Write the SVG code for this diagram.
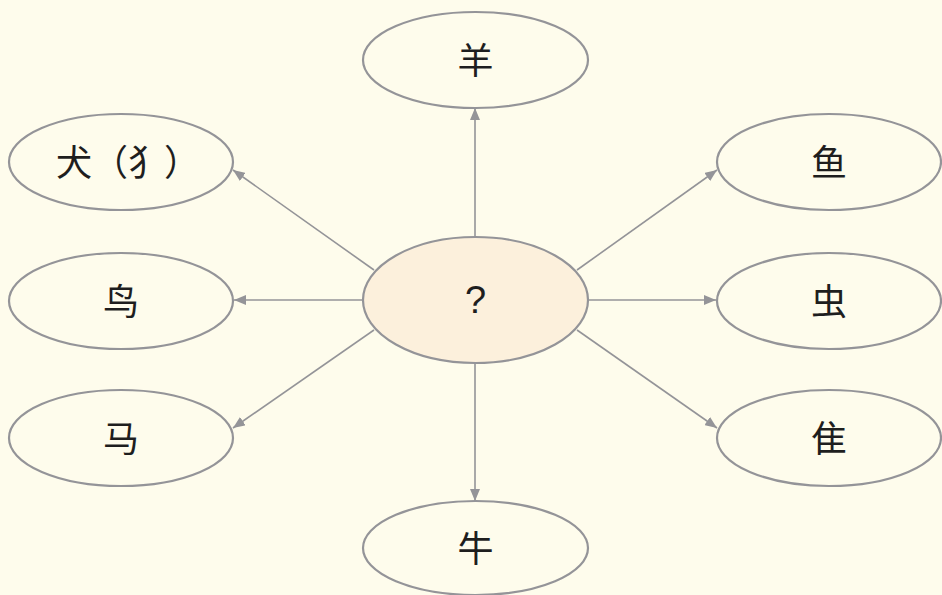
<svg xmlns="http://www.w3.org/2000/svg" width="942" height="595" viewBox="0 0 942 595">
<style>
.n ellipse{fill:none;stroke:#949498;stroke-width:2.2}
.n text{font-family:"Noto Sans CJK SC","Noto Sans CJK TC",sans-serif;font-size:36px;fill:#1e1e1e;text-anchor:middle;dominant-baseline:central}
#edges line{stroke:#949498;stroke-width:1.6}
</style>
<defs>
<marker id="ah" viewBox="0 0 12 10" refX="12" refY="5" markerWidth="12" markerHeight="10" markerUnits="userSpaceOnUse" orient="auto">
<path d="M0,0 L12,5 L0,10 Z" fill="#949498"/>
</marker>
</defs>
<rect width="942" height="595" fill="#fefcec"/>
<g id="edges">
<line x1="475" y1="237" x2="475" y2="108" marker-end="url(#ah)"/>
<line x1="475" y1="363" x2="475" y2="501" marker-end="url(#ah)"/>
<line x1="363" y1="300" x2="234" y2="300" marker-end="url(#ah)"/>
<line x1="588" y1="300" x2="716" y2="300" marker-end="url(#ah)"/>
<line x1="374" y1="270" x2="233" y2="170" marker-end="url(#ah)"/>
<line x1="577" y1="270" x2="717" y2="170" marker-end="url(#ah)"/>
<line x1="374" y1="330" x2="233" y2="428" marker-end="url(#ah)"/>
<line x1="577" y1="330" x2="717" y2="428" marker-end="url(#ah)"/>
</g>
<g id="center" class="n"><ellipse cx="475.5" cy="300" rx="112.5" ry="63" style="fill:#fcf0dc"/><text x="475.5" y="300" style="font-family:'Liberation Sans',sans-serif;font-size:38px">?</text></g>
<g id="yang" class="n"><ellipse cx="475.5" cy="60" rx="112.5" ry="48"/><text x="475.5" y="58">羊</text></g>
<g id="niu" class="n"><ellipse cx="475.5" cy="548" rx="112.5" ry="47"/><text x="475.5" y="546">牛</text></g>
<g id="quan" class="n"><ellipse cx="121" cy="162" rx="112" ry="48"/><text x="128" y="160">犬（犭）</text></g>
<g id="niao" class="n"><ellipse cx="121" cy="301" rx="112" ry="48"/><text x="121" y="299">鸟</text></g>
<g id="ma" class="n"><ellipse cx="121" cy="438" rx="112" ry="48"/><text x="121" y="436">马</text></g>
<g id="yu" class="n"><ellipse cx="829" cy="162" rx="112" ry="48"/><text x="829" y="160">鱼</text></g>
<g id="chong" class="n"><ellipse cx="829" cy="301" rx="112" ry="48"/><text x="829" y="299">虫</text></g>
<g id="zhui" class="n"><ellipse cx="829" cy="438" rx="112" ry="48"/><text x="829" y="436">隹</text></g>
</svg>
